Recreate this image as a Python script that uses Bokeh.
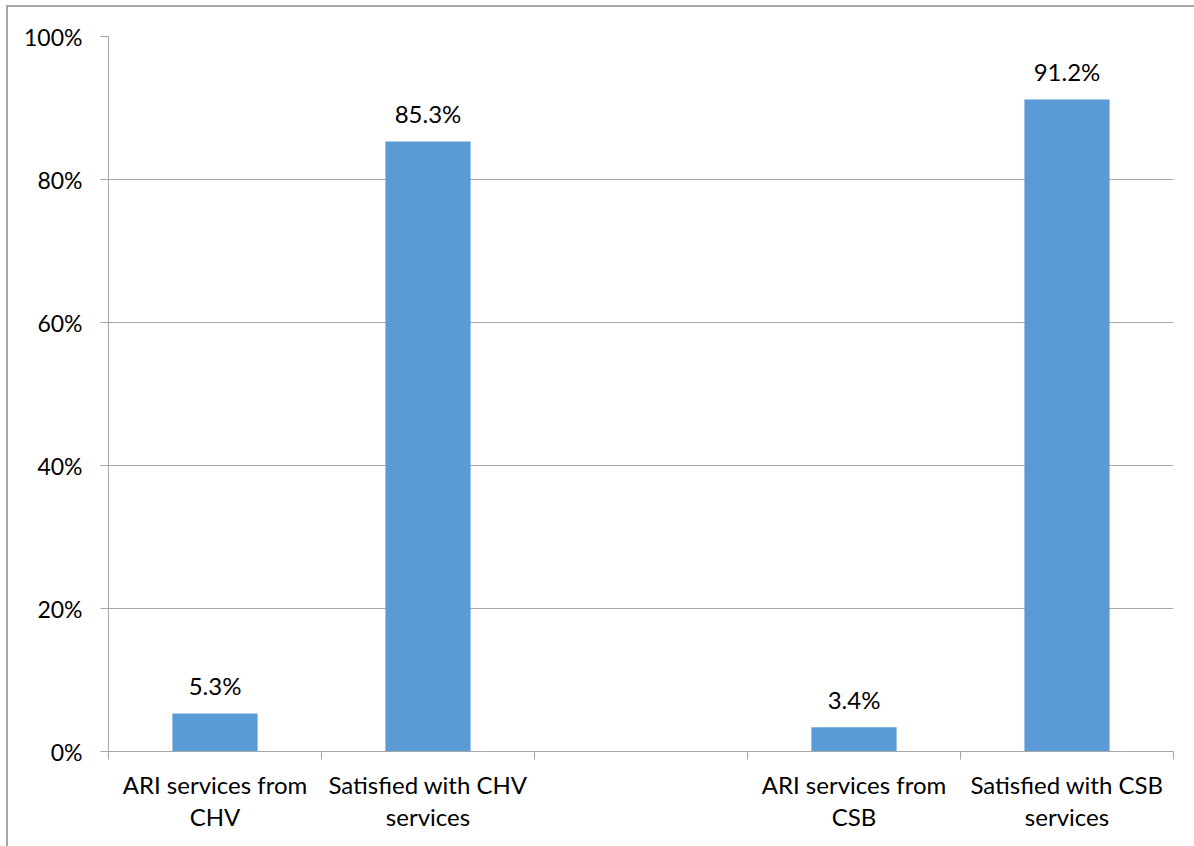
from bokeh.plotting import figure
from bokeh.models import Range1d, FixedTicker, ColumnDataSource
from bokeh.core.properties import value
from bokeh.embed import file_html
from bokeh.resources import INLINE

# ---- data ----
categories = ["ARI services from\nCHV", "Satisfied with CHV\nservices", "",
              "ARI services from\nCSB", "Satisfied with CSB\nservices"]
values = [5.3, 85.3, None, 3.4, 91.2]
y_ticks = [0, 20, 40, 60, 80, 100]
y_tick_labels = ["0%", "20%", "40%", "60%", "80%", "100%"]

FONT = "Lato"
FS = "23px"
GRAY = "#a6a6a6"
BAR = "#5B9BD5"

xs, tops, texts = [], [], []
for i, v in enumerate(values):
    if v is not None:
        xs.append(i + 0.5)
        tops.append(v)
        texts.append(f"{v:.1f}%")
src = ColumnDataSource(dict(x=xs, top=tops, label=texts))

p = figure(output_backend="svg", toolbar_location=None,
           frame_width=1065, frame_height=715,
           min_border_left=100, min_border_top=29,
           min_border_right=21, min_border_bottom=95,
           x_range=Range1d(0, len(categories)), y_range=Range1d(0, 100))
p.styles = {"border-top": f"2px solid {GRAY}", "border-left": f"2px solid {GRAY}",
            "margin-left": "6px", "margin-top": "5px"}
p.outline_line_color = None
p.background_fill_color = "white"
p.border_fill_color = "white"

p.vbar(x="x", top="top", width=0.4, source=src, fill_color=BAR, line_color=None)
p.text(x="x", y="top", text="label", source=src, text_align="center",
       text_baseline="alphabetic", y_offset=-28, text_font=value(FONT),
       text_font_size="24px", text_color="#000000")

# y axis
yax = p.yaxis[0]
yax.ticker = FixedTicker(ticks=y_ticks)
yax.major_label_overrides = {t: l for t, l in zip(y_ticks, y_tick_labels)}
yax.axis_line_color = GRAY
yax.major_tick_line_color = GRAY
yax.major_tick_out = 8
yax.major_tick_in = 0
yax.minor_tick_line_color = None
yax.major_label_standoff = 18
yax.major_label_text_font = FONT
yax.major_label_text_font_size = FS
yax.major_label_text_color = "#000000"

# x axis: labels at slot centres, tick marks at slot boundaries
n = len(categories)
centers = [i + 0.5 for i in range(n)]
bounds = [float(i) for i in range(n + 1)]
xax = p.xaxis[0]
xax.ticker = FixedTicker(ticks=centers, minor_ticks=bounds)
xax.major_label_overrides = {c: lab for c, lab in zip(centers, categories)}
xax.axis_line_color = GRAY
xax.major_tick_line_color = None
xax.major_tick_out = 8
xax.major_tick_in = 0
xax.minor_tick_line_color = GRAY
xax.minor_tick_out = 8
xax.minor_tick_in = 0
xax.major_label_standoff = 10
xax.major_label_text_font = FONT
xax.major_label_text_font_size = "24px"
xax.major_label_text_color = "#000000"
xax.major_label_text_line_height = 1.12

p.xgrid.visible = False
p.ygrid.ticker = FixedTicker(ticks=y_ticks)
p.ygrid.grid_line_color = GRAY
p.ygrid.grid_line_width = 1

open("out.html", "w").write(file_html(p, INLINE))
